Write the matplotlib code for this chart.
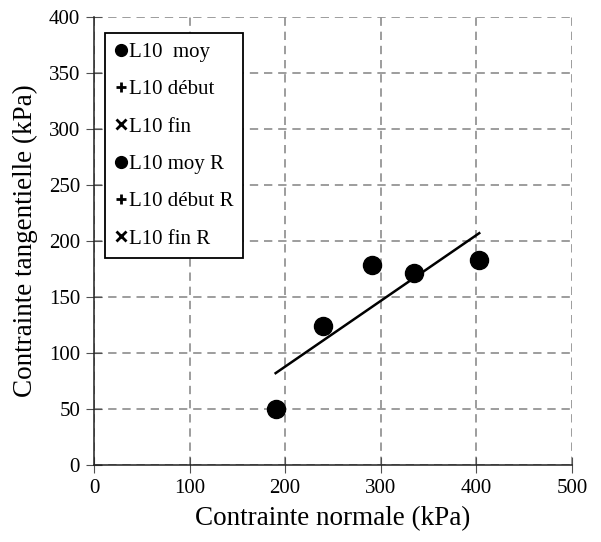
import numpy as np
import matplotlib.pyplot as plt
from matplotlib.lines import Line2D

plt.rcParams['font.family'] = ['Liberation Serif', 'DejaVu Serif']

#--Data
sigma_n = [190, 240, 291, 335, 403]
tau = [50, 124, 179, 171, 183]
fit_x = [190, 403]
fit_y = [82, 207]

legend_labels = ['L10  moy', 'L10 début', 'L10 fin', 'L10 moy R', 'L10 début R', 'L10 fin R']
legend_markers = ['o', '+', 'x', 'o', '+', 'x']

#%%
fig = plt.figure(figsize=(6.01, 5.42), dpi=100)
ax = fig.add_axes([0.1564, 0.1421, 0.7953, 0.8265])

ax.plot(sigma_n, tau, 'o', color='black', markersize=13, zorder=3)
ax.plot(fit_x, fit_y, '-', color='black', linewidth=1.8, zorder=3)

ax.set_xlim(0, 500)
ax.set_ylim(0, 400)
ax.set_xticks(np.arange(0, 501, 100))
ax.set_yticks(np.arange(0, 401, 50))
ax.grid(True, linestyle=(0, (5, 3.5)), color='#8c8c8c', linewidth=1.2)
ax.set_axisbelow(True)
for side in ['top', 'right']:
    ax.spines[side].set_visible(False)
for side in ['left', 'bottom']:
    ax.spines[side].set_color('#202020')
    ax.spines[side].set_linewidth(1.1)
ax.tick_params(direction='inout', length=12, color='#505050', labelsize=15, pad=4)

ax.set_xlabel('Contrainte normale (kPa)', fontsize=19.5, labelpad=6)
ax.set_ylabel('Contrainte tangentielle (kPa)', fontsize=19.5, labelpad=8)

handles = []
for lab, m in zip(legend_labels, legend_markers):
    ms = 8.5 if m == 'o' else 7
    handles.append(Line2D([], [], linestyle='none', marker=m, color='black',
                          markersize=ms, markeredgewidth=2 if m != 'o' else 1, label=lab))
leg = ax.legend(handles=handles, loc='upper left', bbox_to_anchor=(0.023, 0.964),
                fontsize=15, frameon=True, fancybox=False, edgecolor='black',
                handlelength=0.6, handletextpad=0.1, labelspacing=0.85, borderpad=0.45,
                borderaxespad=0, framealpha=1)
leg.get_frame().set_linewidth(1.3)

plt.savefig('out.png', dpi=100)
